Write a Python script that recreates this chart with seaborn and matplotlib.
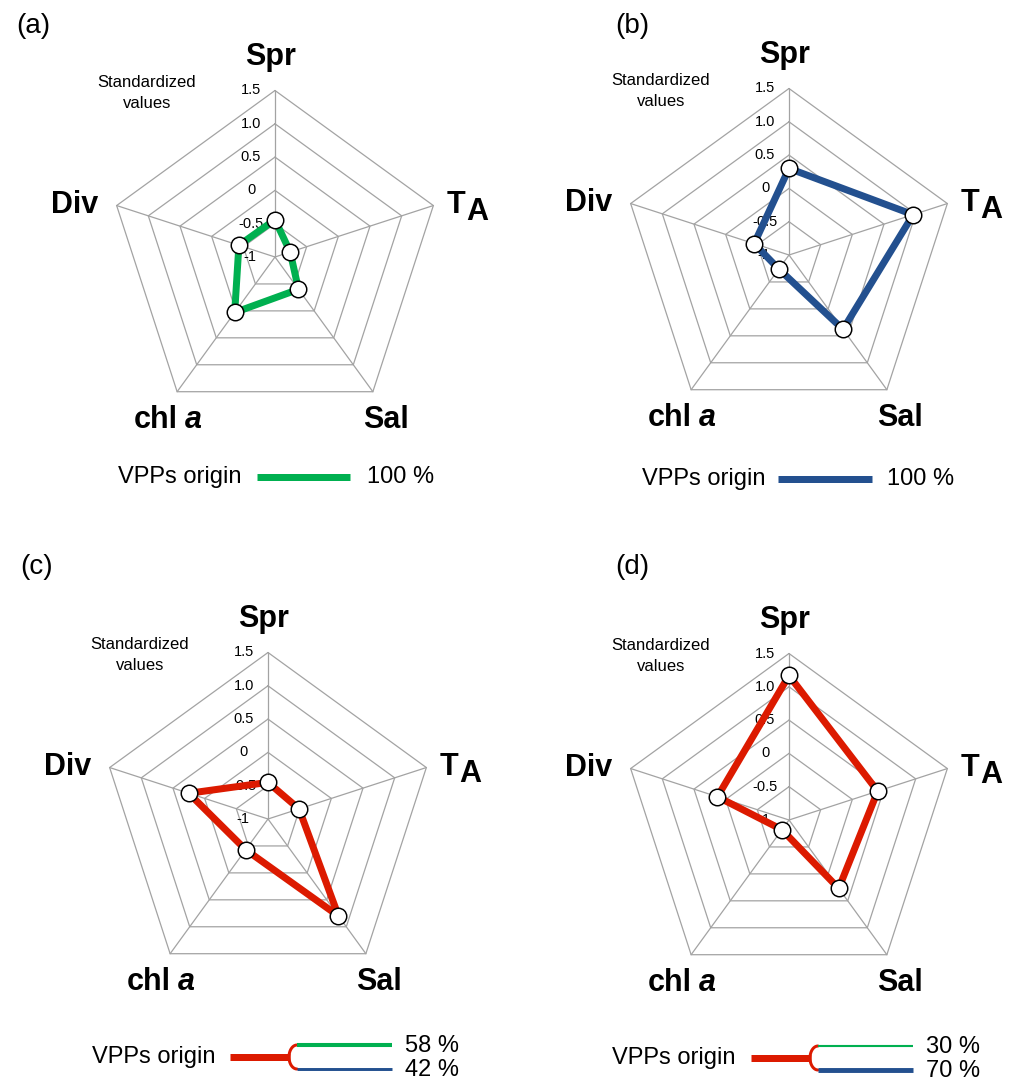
import numpy as np
import pandas as pd
import matplotlib
matplotlib.use("Agg")
import matplotlib.pyplot as plt
import seaborn as sns

# ---------------- data ----------------
categories = ["Spr", "TA", "Sal", "chl a", "Div"]
ring_levels = [-0.5, 0.0, 0.5, 1.0, 1.5]
ring_labels = ["-0.5", "0", "0.5", "1.0", "1.5"]
center_value = -1.0
center_label = "-1"

vals_a = [-0.44, -0.76, -0.40, 0.03, -0.43]
vals_b = [0.30, 0.96, 0.38, -0.74, -0.45]
vals_c = [-0.45, -0.51, 0.80, -0.43, 0.25]
vals_d = [1.17, 0.40, 0.27, -0.82, 0.13]

panel_letters = ["(a)", "(b)", "(c)", "(d)"]
share_green = [100, 0, 58, 30]
share_blue = [0, 100, 42, 70]

GREEN = "#00b050"
BLUE = "#23508f"
RED = "#dc1a00"
GRID = "#a3a3a3"

# ---------------- style ----------------
sns.set_theme(style="white")
plt.rcParams["font.family"] = ["Liberation Sans", "DejaVu Sans"]
plt.rcParams["text.color"] = "black"

W, H = 1016, 1082
fig = plt.figure(figsize=(W / 100, H / 100), dpi=100)
PX = 66.6      # pixels per data unit
HALF = 290     # half-size of each axes in px
PT = 0.72      # points per pixel

angles = np.deg2rad(90 - 72 * np.arange(len(categories)))


def u(px):
    return px / PX


def to_xy(vals):
    r = np.asarray(vals, dtype=float) - center_value
    return r * np.cos(angles), r * np.sin(angles)


def make_ax(cx, cy):
    ax = fig.add_axes([(cx - HALF) / W, 1 - (cy + HALF) / H, 2 * HALF / W, 2 * HALF / H])
    lim = HALF / PX
    ax.set_xlim(-lim, lim)
    ax.set_ylim(-lim, lim)
    ax.axis("off")
    return ax


def draw_radar(ax, vals, color):
    # pentagon rings
    for lv, lab in zip(ring_levels, ring_labels):
        r = lv - center_value
        xs = np.append(r * np.cos(angles), r * np.cos(angles[0]))
        ys = np.append(r * np.sin(angles), r * np.sin(angles[0]))
        ax.plot(xs, ys, color=GRID, lw=0.9, zorder=1, solid_joinstyle="miter")
        ax.text(u(-24), r, lab, ha="center", va="center", fontsize=10.5, color="black", zorder=2)
    ax.text(u(-25), 0, center_label, ha="center", va="center", fontsize=10.5, color="black", zorder=2)
    R = ring_levels[-1] - center_value
    for a in angles:
        ax.plot([0, R * np.cos(a)], [0, R * np.sin(a)], color=GRID, lw=0.9, zorder=1)

    # data polygon
    xs, ys = to_xy(vals)
    df = pd.DataFrame({"x": np.append(xs, xs[0]), "y": np.append(ys, ys[0]),
                       "o": np.arange(len(xs) + 1)})
    sns.lineplot(data=df, x="x", y="y", sort=False, estimator=None, color=color,
                 lw=7 * PT, ax=ax, zorder=3, legend=False)
    sns.scatterplot(x=xs, y=ys, s=(16.5 * PT) ** 2, color="white", edgecolor="black",
                    linewidth=1.5 * PT, ax=ax, zorder=4, legend=False)
    ax.set_xlabel("")
    ax.set_ylabel("")

    # axis labels
    fs = 22
    ax.text(u(-4), u(192), "Spr", ha="center", va="baseline", fontsize=fs, fontweight="bold")
    ax.text(u(181), u(44), "T", ha="center", va="baseline", fontsize=fs, fontweight="bold")
    ax.text(u(202), u(37), "A", ha="center", va="baseline", fontsize=fs, fontweight="bold")
    ax.text(u(-200), u(44), "Div", ha="center", va="baseline", fontsize=fs, fontweight="bold")
    ax.text(u(-97), u(-171), "chl", ha="right", va="baseline", fontsize=fs, fontweight="bold")
    ax.text(u(-90), u(-171), "a", ha="left", va="baseline", fontsize=fs, fontweight="bold",
            fontstyle="italic")
    ax.text(u(111), u(-171), "Sal", ha="center", va="baseline", fontsize=fs, fontweight="bold")

    ax.text(u(-128), u(164), "Standardized\nvalues", ha="center", va="center",
            fontsize=12, linespacing=1.45, color="black")


def legend_single(ax, color, pct, dx_text, dx0, dx1, dx_pct, dy):
    ax.text(u(dx_text), u(dy), "VPPs origin", ha="right", va="center", fontsize=17)
    ax.plot([u(dx0), u(dx1)], [u(dy), u(dy)], color=color, lw=7 * PT, solid_capstyle="butt")
    ax.text(u(dx_pct), u(dy), f"{pct} %", ha="left", va="center", fontsize=17)


def legend_split(ax, g, b, dy):
    dx_text, s0, s1, b0, b1, dx_pct = -53, -38, 21, 29, 124, 137
    ytop, ybot = dy + 12, dy - 12
    ax.text(u(dx_text), u(dy), "VPPs origin", ha="right", va="center", fontsize=17)
    ax.plot([u(s0), u(s1 + 1)], [u(dy), u(dy)], color=RED, lw=7 * PT, solid_capstyle="butt")
    t = np.linspace(np.pi / 2, 3 * np.pi / 2, 40)
    rx = b0 - s1
    ax.plot(u(b0 + rx * np.cos(t)), u(dy + 12 * np.sin(t)), color=RED, lw=3 * PT)
    ax.plot([u(b0), u(b1)], [u(ytop), u(ytop)], color=GREEN, lw=7 * g / 100 * PT,
            solid_capstyle="butt")
    ax.plot([u(b0), u(b1)], [u(ybot), u(ybot)], color=BLUE, lw=7 * b / 100 * PT,
            solid_capstyle="butt")
    ax.text(u(dx_pct), u(ytop - 1), f"{g} %", ha="left", va="center", fontsize=17)
    ax.text(u(dx_pct), u(ybot - 1), f"{b} %", ha="left", va="center", fontsize=17)


centers = [(275, 257), (789, 255), (268, 819), (789, 820)]
all_vals = [vals_a, vals_b, vals_c, vals_d]
colors = [GREEN, BLUE, RED, RED]
letter_pos = [(33, 26), (632, 26), (37, 567), (632, 567)]

for i in range(4):
    ax = make_ax(*centers[i])
    draw_radar(ax, all_vals[i], colors[i])
    if i == 0:
        legend_single(ax, GREEN, share_green[0], -33, -18, 75, 92, -220)
    elif i == 1:
        legend_single(ax, BLUE, share_blue[1], -24, -11, 83, 98, -224)
    else:
        legend_split(ax, share_green[i], share_blue[i], -238)
    lx, ly = letter_pos[i]
    fig.text(lx / W, 1 - ly / H, panel_letters[i], ha="center", va="center", fontsize=20)

fig.savefig("out.png", dpi=100, facecolor="white")
